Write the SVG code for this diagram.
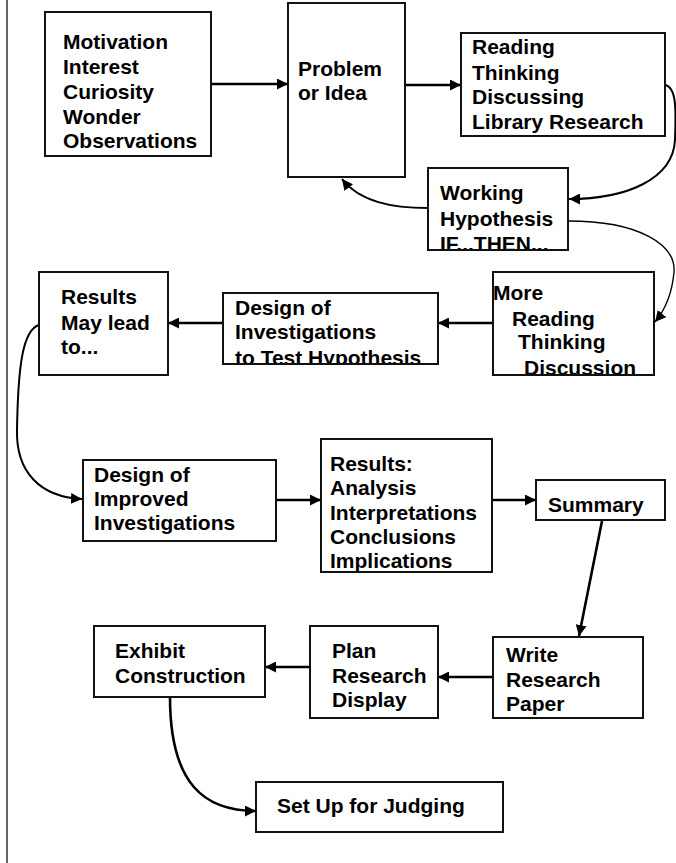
<svg xmlns="http://www.w3.org/2000/svg" width="676" height="863" viewBox="0 0 676 863">
<style>
  .box { fill: #fff; stroke: #111; stroke-width: 2; }
  .t { font-family: "Liberation Sans", Arial, sans-serif; font-weight: bold; font-size: 21px; fill: #000; }
  .c { fill: none; stroke: #000; stroke-width: 2.6; }
  .cc { fill: none; stroke: #000; stroke-width: 2; }
  .ct { fill: none; stroke: #000; stroke-width: 1.4; }
</style>
<defs>
  <marker id="ah" viewBox="0 0 10 10" refX="10" refY="5" markerWidth="11" markerHeight="11" markerUnits="userSpaceOnUse" orient="auto">
    <path d="M0,0 L10,5 L0,10 z" fill="#000"/>
  </marker>
  <clipPath id="cpHyp"><rect x="428" y="168" width="140" height="82"/></clipPath>
  <clipPath id="cpDes"><rect x="223" y="293" width="215" height="71"/></clipPath>
  <clipPath id="cpMore"><rect x="493" y="272" width="161" height="103"/></clipPath>
  <clipPath id="cpRes"><rect x="321" y="439" width="171" height="133"/></clipPath>
</defs>

<line x1="7" y1="0" x2="7" y2="863" stroke="#333" stroke-width="1.5"/>

<g id="connectors">
  <line class="c" x1="211" y1="84" x2="288" y2="84" marker-end="url(#ah)"/>
  <line class="c" x1="405" y1="85" x2="461" y2="85" marker-end="url(#ah)"/>
  <path class="cc" d="M665,85 C677,87 676,112 675,140 C673,180 625,199 569,199" marker-end="url(#ah)"/>
  <path class="cc" d="M428,208 C392,208 360,202 342,179" marker-end="url(#ah)"/>
  <path class="ct" d="M568,221 C640,221 676,245 674,272 C672,295 665,310 655,322" marker-end="url(#ah)"/>
  <line class="c" x1="493" y1="323" x2="438" y2="323" marker-end="url(#ah)"/>
  <line class="c" x1="223" y1="323" x2="168" y2="323" marker-end="url(#ah)"/>
  <path class="cc" d="M39,325 C22,330 18,370 17,430 C16,472 40,497 82,499" marker-end="url(#ah)"/>
  <line class="c" x1="276" y1="500" x2="321" y2="500" marker-end="url(#ah)"/>
  <line class="c" x1="492" y1="500" x2="536" y2="500" marker-end="url(#ah)"/>
  <line class="c" x1="602" y1="521" x2="579" y2="636" marker-end="url(#ah)"/>
  <line class="c" x1="493" y1="677" x2="438" y2="677" marker-end="url(#ah)"/>
  <line class="c" x1="310" y1="667" x2="265" y2="667" marker-end="url(#ah)"/>
  <path class="c" d="M170,697 C170,785 205,811 256,811" marker-end="url(#ah)"/>
</g>

<g id="motivation">
  <rect class="box" x="45" y="12" width="166" height="144"/>
  <text class="t" x="63" y="49">Motivation</text>
  <text class="t" x="63" y="74">Interest</text>
  <text class="t" x="63" y="99">Curiosity</text>
  <text class="t" x="63" y="124">Wonder</text>
  <text class="t" x="63" y="148">Observations</text>
</g>

<g id="problem">
  <rect class="box" x="288" y="3" width="117" height="174"/>
  <text class="t" x="298" y="76">Problem</text>
  <text class="t" x="298" y="100">or Idea</text>
</g>

<g id="reading">
  <rect class="box" x="461" y="33" width="204" height="103"/>
  <text class="t" x="472" y="54">Reading</text>
  <text class="t" x="472" y="80">Thinking</text>
  <text class="t" x="472" y="104">Discussing</text>
  <text class="t" x="472" y="129">Library Research</text>
</g>

<g id="hypothesis">
  <rect class="box" x="428" y="168" width="140" height="82"/>
  <g clip-path="url(#cpHyp)">
    <text class="t" x="440" y="200">Working</text>
    <text class="t" x="440" y="226">Hypothesis</text>
    <text class="t" x="440" y="251">IF...THEN...</text>
  </g>
  <line x1="428" y1="250" x2="568" y2="250" stroke="#111" stroke-width="2"/>
</g>

<g id="more">
  <rect class="box" x="493" y="272" width="161" height="103"/>
  <g clip-path="url(#cpMore)">
    <text class="t" x="493" y="300">More</text>
    <text class="t" x="512" y="326">Reading</text>
    <text class="t" x="518" y="349">Thinking</text>
    <text class="t" x="524" y="375">Discussion</text>
  </g>
  <line x1="493" y1="375" x2="654" y2="375" stroke="#111" stroke-width="2"/>
</g>

<g id="design-test">
  <rect class="box" x="223" y="293" width="215" height="71"/>
  <g clip-path="url(#cpDes)">
    <text class="t" x="235" y="315">Design of</text>
    <text class="t" x="235" y="339">Investigations</text>
    <text class="t" x="235" y="365">to Test Hypothesis</text>
  </g>
  <line x1="223" y1="364" x2="438" y2="364" stroke="#111" stroke-width="2"/>
</g>

<g id="results-lead">
  <rect class="box" x="39" y="272" width="129" height="103"/>
  <text class="t" x="61" y="304">Results</text>
  <text class="t" x="61" y="330">May lead</text>
  <text class="t" x="61" y="354">to...</text>
</g>

<g id="design-improved">
  <rect class="box" x="83" y="460" width="193" height="81"/>
  <text class="t" x="94" y="482">Design of</text>
  <text class="t" x="94" y="506">Improved</text>
  <text class="t" x="94" y="530">Investigations</text>
</g>

<g id="results-analysis">
  <rect class="box" x="321" y="439" width="171" height="133"/>
  <g clip-path="url(#cpRes)">
    <text class="t" x="330" y="471">Results:</text>
    <text class="t" x="330" y="495">Analysis</text>
    <text class="t" x="330" y="520">Interpretations</text>
    <text class="t" x="330" y="544">Conclusions</text>
    <text class="t" x="330" y="568">Implications</text>
  </g>
  <line x1="321" y1="572" x2="492" y2="572" stroke="#111" stroke-width="2"/>
</g>

<g id="summary">
  <rect class="box" x="536" y="480" width="129" height="40"/>
  <text class="t" x="548" y="512">Summary</text>
</g>

<g id="write">
  <rect class="box" x="493" y="637" width="150" height="81"/>
  <text class="t" x="506" y="662">Write</text>
  <text class="t" x="506" y="687">Research</text>
  <text class="t" x="506" y="711">Paper</text>
</g>

<g id="plan">
  <rect class="box" x="310" y="626" width="128" height="92"/>
  <text class="t" x="332" y="658">Plan</text>
  <text class="t" x="332" y="683">Research</text>
  <text class="t" x="332" y="707">Display</text>
</g>

<g id="exhibit">
  <rect class="box" x="94" y="626" width="171" height="71"/>
  <text class="t" x="115" y="658">Exhibit</text>
  <text class="t" x="115" y="683">Construction</text>
</g>

<g id="judging">
  <rect class="box" x="256" y="782" width="247" height="50"/>
  <text class="t" x="277" y="813">Set Up for Judging</text>
</g>
</svg>
